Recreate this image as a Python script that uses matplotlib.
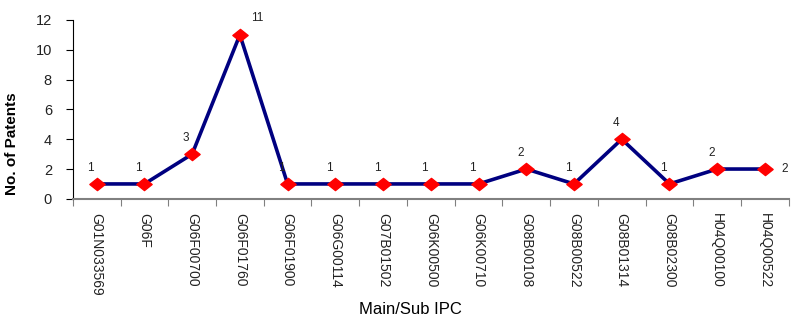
import numpy as np
import matplotlib
matplotlib.use("Agg")
import matplotlib.pyplot as plt
from matplotlib.path import Path

plt.rcParams['font.family'] = ['Liberation Sans', 'DejaVu Sans']

ipc_codes = ["G01N033569", "G06F", "G06F00700", "G06F01760", "G06F01900",
             "G06G00114", "G07B01502", "G06K00500", "G06K00710", "G08B00108",
             "G08B00522", "G08B01314", "G08B02300", "H04Q00100", "H04Q00522"]
patents = [1, 1, 3, 11, 1, 1, 1, 1, 1, 2, 1, 4, 1, 2, 2]
y_ticks = [0, 2, 4, 6, 8, 10, 12]

# flattened diamond like the excel marker
diamond = Path([(-1, 0), (0, 0.8), (1, 0), (0, -0.8), (-1, 0)],
               [Path.MOVETO, Path.LINETO, Path.LINETO, Path.LINETO, Path.CLOSEPOLY])

fig = plt.figure(figsize=(8, 3.26), dpi=100)
ax = fig.add_axes([0.091, 0.39, 0.895, 0.549])

x = np.arange(len(patents)) + 0.5
ax.plot(x, patents, color='#000080', linewidth=2.6, marker=diamond,
        markersize=11, markerfacecolor='#ff0000', markeredgecolor='#ff0000', zorder=3)

peak = int(np.argmax(patents))
for i, v in enumerate(patents):
    if i == peak:
        off = (17, 17)
    elif i == len(patents) - 1:
        off = (20, 0)
    else:
        off = (-6, 16)
    ax.annotate(str(v), (x[i], v), xytext=off, textcoords='offset pixels',
                ha='center', va='center', fontsize=8.5, color='#222222', zorder=5)

ax.set_xlim(0, len(patents))
ax.set_ylim(0, 12)
ax.set_yticks(y_ticks)
ax.set_yticklabels([str(t) for t in y_ticks], fontsize=10.5, color='#222222')

# ticks between categories, labels in the middle
ax.set_xticks(np.arange(len(patents) + 1))
ax.set_xticklabels([])
ax.set_xticks(x, minor=True)
ax.set_xticklabels(ipc_codes, minor=True, rotation=-90, fontsize=10,
                   ha='center', va='top', color='#222222')
ax.tick_params(axis='x', which='major', length=5, direction='out', color='#808080')
ax.tick_params(axis='x', which='minor', length=0, pad=10)
ax.tick_params(axis='y', length=5, direction='out', pad=10)

ax.spines['top'].set_visible(False)
ax.spines['right'].set_visible(False)
ax.spines['bottom'].set_color('#808080')
ax.spines['bottom'].set_linewidth(1.5)
ax.spines['left'].set_color('black')

ax.set_ylabel("No. of Patents", fontsize=11, fontweight='bold')
ax.yaxis.set_label_coords(-0.075, 0.31)
ax.set_xlabel("Main/Sub IPC", fontsize=12)
ax.xaxis.set_label_coords(0.472, -0.575)

fig.savefig("out.png", dpi=100)
